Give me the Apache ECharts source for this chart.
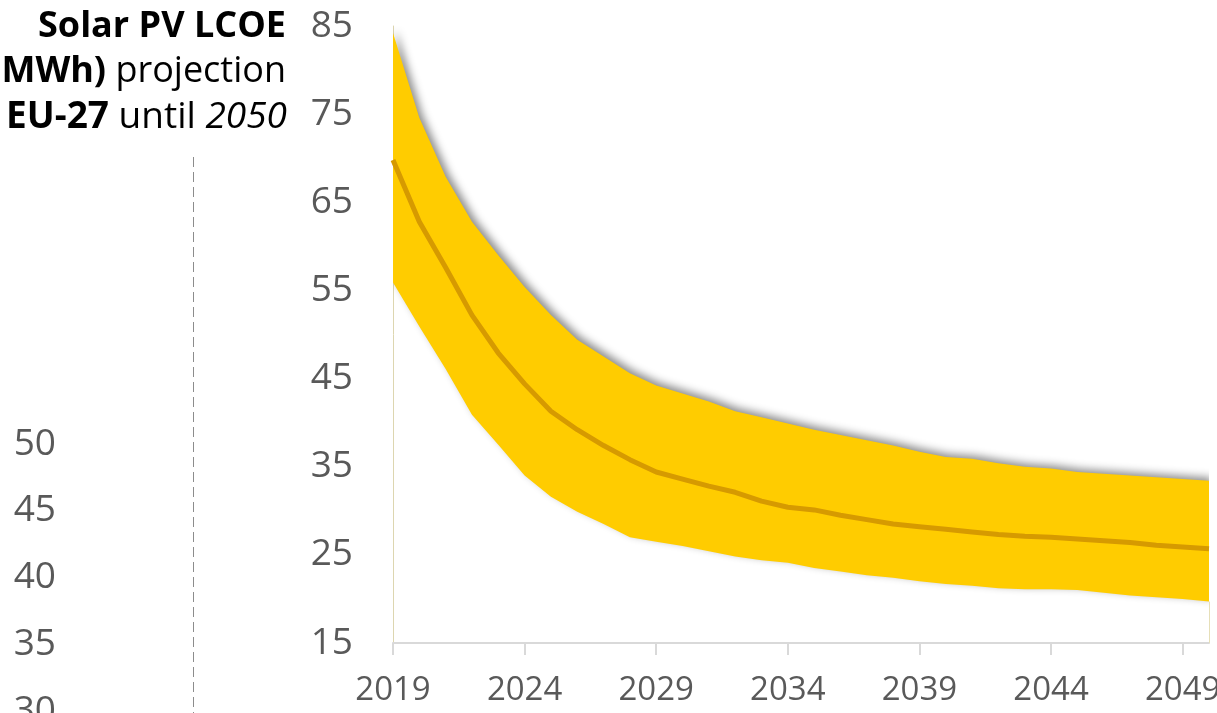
<!DOCTYPE html>
<html>
<head>
<meta charset="utf-8">
<script src="https://cdn.jsdelivr.net/npm/echarts@6/dist/echarts.min.js"></script>
<style>html,body{margin:0;padding:0;background:#fff;}#c{width:1217px;height:713px;}</style>
</head>
<body>
<div id="c"></div>
<script>
const years = ['2019','2020','2021','2022','2023','2024','2025','2026','2027','2028','2029','2030','2031','2032','2033','2034','2035','2036','2037','2038','2039','2040','2041','2042','2043','2044','2045','2046','2047','2048','2049','2050'];
const upper = [84.2,74.6,67.9,62.8,59.0,55.4,52.2,49.4,47.5,45.6,44.2,43.3,42.4,41.3,40.6,39.9,39.2,38.6,38.0,37.4,36.7,36.1,35.9,35.4,35.0,34.8,34.4,34.2,34.0,33.8,33.6,33.4];
const middle = [69.8,62.8,57.6,52.2,47.9,44.4,41.3,39.2,37.4,35.8,34.4,33.6,32.8,32.1,31.1,30.4,30.1,29.5,29.0,28.5,28.2,27.9,27.6,27.3,27.1,27.0,26.8,26.6,26.4,26.1,25.9,25.7];
const lower = [55.9,50.9,46.1,40.9,37.5,34.0,31.6,29.9,28.5,27.0,26.5,26.0,25.4,24.8,24.4,24.1,23.5,23.1,22.7,22.4,22.0,21.7,21.5,21.2,21.1,21.1,21.0,20.7,20.4,20.2,20.0,19.7];
const leftAxisTicks = {min: 30, max: 50, step: 5};

const band = upper.map((u, i) => +(u - lower[i]).toFixed(2));
const lastIdx = years.length - 1;
const FONT = '"Open Sans", sans-serif';
const chart = echarts.init(document.getElementById('c'), null, {renderer: 'canvas'});
chart.setOption({
  animation: false,
  backgroundColor: '#ffffff',
  grid: [
    {left: 393, right: 8, top: 26, bottom: 70, containLabel: false, outerBoundsMode: 'none'},
    {left: 64, width: 100, top: 444, height: 267, containLabel: false, outerBoundsMode: 'none'}
  ],
  xAxis: [
    {
      type: 'category', gridIndex: 0, data: years, boundaryGap: false,
      axisLine: {show: true, lineStyle: {color: '#D9D9D9', width: 2}},
      axisTick: {show: true, interval: 4, length: 12, lineStyle: {color: '#D9D9D9', width: 2}},
      axisLabel: {interval: 4, color: '#595959', fontFamily: FONT, fontSize: 33, margin: 31}
    },
    {type: 'value', gridIndex: 1, show: false}
  ],
  yAxis: [
    {
      type: 'value', gridIndex: 0, min: 15, max: 85, interval: 10,
      splitLine: {show: false},
      axisLine: {show: true, lineStyle: {color: '#DDD6B0', width: 1}},
      axisTick: {show: false},
      axisLabel: {color: '#595959', fontFamily: FONT, fontSize: 37, margin: 40}
    },
    {
      type: 'value', gridIndex: 1, min: leftAxisTicks.min, max: leftAxisTicks.max, interval: leftAxisTicks.step,
      splitLine: {show: false}, axisLine: {show: false}, axisTick: {show: false},
      axisLabel: {color: '#595959', fontFamily: FONT, fontSize: 37, margin: 8}
    }
  ],
  series: [
    {
      name: 'Lower', type: 'line', xAxisIndex: 0, yAxisIndex: 0, stack: 'range', data: lower,
      symbol: 'none', lineStyle: {width: 0, opacity: 0}, silent: true, z: 2,
      markLine: {silent: true, symbol: 'none', label: {show: false},
        lineStyle: {color: '#E6DFB8', width: 1, type: 'solid'},
        data: [[{coord: [years[lastIdx], lower[lastIdx]]}, {coord: [years[lastIdx], 15]}]]}
    },
    {
      name: 'Range', type: 'line', xAxisIndex: 0, yAxisIndex: 0, stack: 'range', data: band,
      symbol: 'none', lineStyle: {width: 0, opacity: 0}, silent: true, z: 2,
      areaStyle: {color: '#FFCC00', opacity: 1, shadowColor: 'rgba(0,0,0,0.45)', shadowBlur: 8, shadowOffsetX: 3, shadowOffsetY: -3}
    },
    {
      name: 'Central', type: 'line', xAxisIndex: 0, yAxisIndex: 0, data: middle,
      symbol: 'none', lineStyle: {color: '#D69A00', width: 5}, silent: true, z: 3
    }
  ],
  graphic: [
    {type: 'line', shape: {x1: 193.5, y1: 157, x2: 193.5, y2: 713}, style: {stroke: '#8C8C8C', lineWidth: 1, lineDash: [10, 5]}},
    {type: 'text', x: 286, y: 27, style: {text: '{b|Solar PV LCOE}', align: 'right', verticalAlign: 'middle',
      rich: {b: {fontFamily: FONT, fontSize: 36, fontWeight: 'bold', fill: '#000'}}}},
    {type: 'text', x: 286, y: 72, style: {text: '{b|MWh)}{r| projection}', align: 'right', verticalAlign: 'middle',
      rich: {b: {fontFamily: FONT, fontSize: 36, fontWeight: 'bold', fill: '#000'}, r: {fontFamily: FONT, fontSize: 36, fill: '#000'}}}},
    {type: 'text', x: 287, y: 117, style: {text: '{b|EU-27}{r| until }{i|2050}', align: 'right', verticalAlign: 'middle',
      rich: {b: {fontFamily: FONT, fontSize: 37, fontWeight: 'bold', fill: '#000'}, r: {fontFamily: FONT, fontSize: 37, fill: '#000'}, i: {fontFamily: FONT, fontSize: 37, fontStyle: 'italic', fill: '#000'}}}}
  ]
});
</script>
</body>
</html>
